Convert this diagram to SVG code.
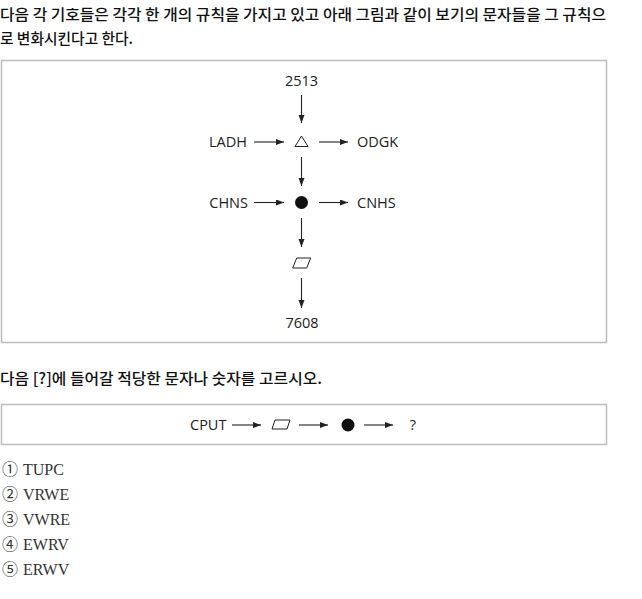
<svg xmlns="http://www.w3.org/2000/svg" width="642" height="599" viewBox="0 0 642 599">
<style>
.kr{font-family:"Noto Sans CJK KR","Noto Sans",sans-serif;font-size:15px;font-weight:500;fill:#111}
.lb{font-family:"Open Sans","Noto Sans",sans-serif;font-size:14.5px;fill:#222}
.op{font-family:"Liberation Serif","Noto Sans CJK KR",serif;font-size:16px;fill:#333}
.box{fill:#fff;stroke:#bdbdbd;stroke-width:1.5}
.ar{stroke:#222;stroke-width:1.1;fill:none;marker-end:url(#ah)}
.sym{stroke:#222;stroke-width:1;fill:#fff}
.dot{fill:#111}
</style>
<defs>
<marker id="ah" markerUnits="userSpaceOnUse" markerWidth="9" markerHeight="7" refX="8" refY="3" orient="auto">
<path d="M0,0 L8,3 L0,6 z" fill="#222"/>
</marker>
</defs>
<rect width="642" height="599" fill="#fff"/>
<g id="header">
<text class="kr" x="0" y="20" textLength="606" lengthAdjust="spacingAndGlyphs">다음 각 기호들은 각각 한 개의 규칙을 가지고 있고 아래 그림과 같이 보기의 문자들을 그 규칙으</text>
<text class="kr" x="0" y="44" textLength="133" lengthAdjust="spacingAndGlyphs">로 변화시킨다고 한다.</text>
</g>
<rect id="box1" class="box" x="1.5" y="60.5" width="605" height="282"/>
<rect id="box2" class="box" x="1.5" y="404.5" width="605" height="40"/>
<g id="n2513"><text class="lb" x="301.5" y="86" text-anchor="middle">2513</text></g>
<g id="nLADH"><text class="lb" x="247" y="147" text-anchor="end">LADH</text></g>
<g id="nTri"><polygon class="sym" points="301.5,136 295,146.5 308,146.5"/></g>
<g id="nODGK"><text class="lb" x="357" y="147">ODGK</text></g>
<g id="nCHNS"><text class="lb" x="248" y="208" text-anchor="end">CHNS</text></g>
<g id="nDot"><circle class="dot" cx="301.5" cy="202.5" r="6.5"/></g>
<g id="nCNHS"><text class="lb" x="357" y="208">CNHS</text></g>
<g id="nPara"><polygon class="sym" points="296.7,258 310.7,258 306.7,268 292.7,268"/></g>
<g id="n7608"><text class="lb" x="302" y="328" text-anchor="middle">7608</text></g>
<g id="question"><text class="kr" x="0" y="384" textLength="322" lengthAdjust="spacingAndGlyphs">다음 [?]에 들어갈 적당한 문자나 숫자를 고르시오.</text></g>
<g id="qCPUT"><text class="lb" x="190" y="430">CPUT</text></g>
<g id="qPara"><polygon class="sym" points="275,420 290,420 287,429 272,429"/></g>
<g id="qDot"><circle class="dot" cx="348" cy="425" r="6.5"/></g>
<g id="qMark"><text class="lb" x="413" y="430" text-anchor="middle">?</text></g>
<g id="connectors">
<line class="ar" x1="301.5" y1="95" x2="301.5" y2="123"/>
<line class="ar" x1="301.5" y1="157" x2="301.5" y2="186"/>
<line class="ar" x1="301.5" y1="218" x2="301.5" y2="247"/>
<line class="ar" x1="301.5" y1="278" x2="301.5" y2="308"/>
<line class="ar" x1="254" y1="142" x2="284" y2="142"/>
<line class="ar" x1="319" y1="142" x2="348" y2="142"/>
<line class="ar" x1="254" y1="202.5" x2="284" y2="202.5"/>
<line class="ar" x1="319" y1="202.5" x2="348" y2="202.5"/>
<line class="ar" x1="232" y1="425" x2="261" y2="425"/>
<line class="ar" x1="299" y1="425" x2="328" y2="425"/>
<line class="ar" x1="364" y1="425" x2="393" y2="425"/>
</g>
<g id="options">
<text class="op" x="2" y="475">①<tspan x="23">TUPC</tspan></text>
<text class="op" x="2" y="500">②<tspan x="23">VRWE</tspan></text>
<text class="op" x="2" y="525">③<tspan x="23">VWRE</tspan></text>
<text class="op" x="2" y="550">④<tspan x="23">EWRV</tspan></text>
<text class="op" x="2" y="575">⑤<tspan x="23">ERWV</tspan></text>
</g>
</svg>
